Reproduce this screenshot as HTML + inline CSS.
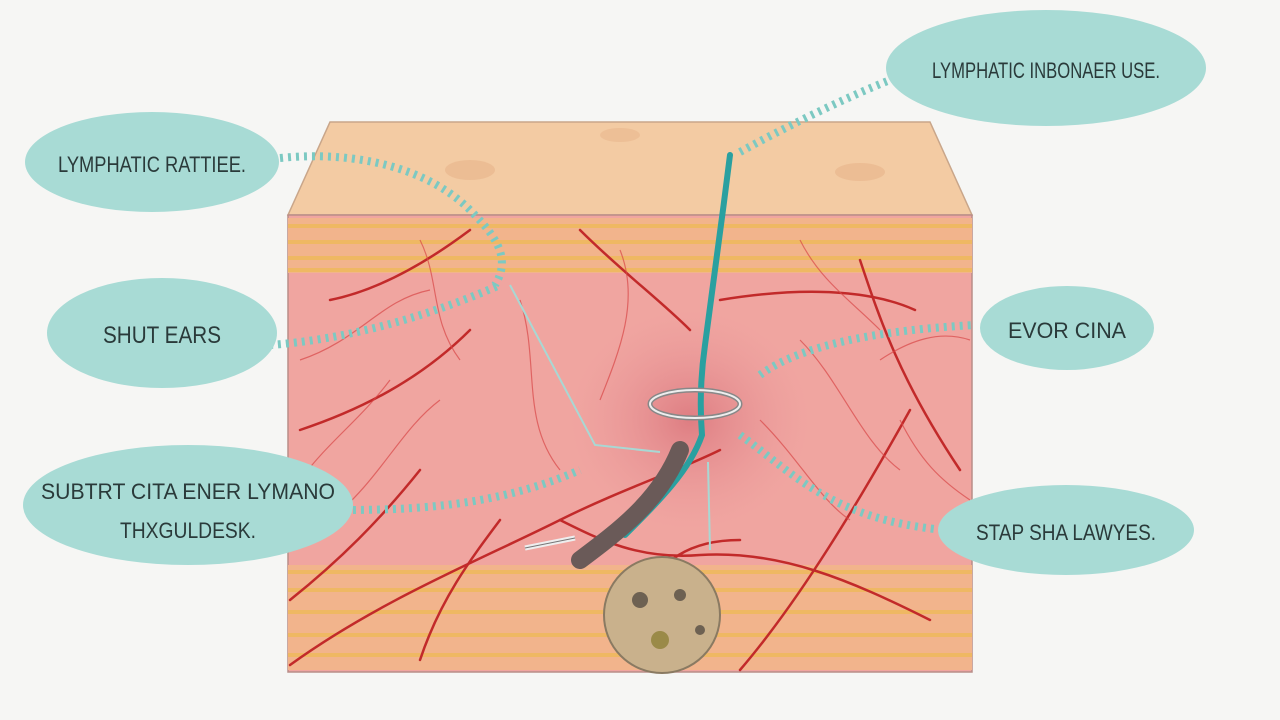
<!DOCTYPE html>
<html><head><meta charset="utf-8"><style>
html,body{margin:0;padding:0;background:#f6f6f4;}
svg{display:block}
text{font-family:"Liberation Sans",sans-serif;fill:#2a3a3a;}
</style></head><body>
<svg width="1280" height="720" viewBox="0 0 1280 720" xmlns="http://www.w3.org/2000/svg">
<defs>
<radialGradient id="glow" cx="0.5" cy="0.5" r="0.5">
<stop offset="0" stop-color="#d9737a" stop-opacity="0.8"/>
<stop offset="1" stop-color="#e8959a" stop-opacity="0"/>
</radialGradient>
</defs>
<rect width="1280" height="720" fill="#f6f6f4"/>
<polygon points="330,122 930,122 972,215 288,215" fill="#f3cba3" stroke="#c9a68a" stroke-width="1.5"/>
<ellipse cx="470" cy="170" rx="25" ry="10" fill="#e8b48a" opacity="0.6"/>
<ellipse cx="860" cy="172" rx="25" ry="9" fill="#e8b48a" opacity="0.6"/>
<ellipse cx="620" cy="135" rx="20" ry="7" fill="#e8b48a" opacity="0.5"/>
<rect x="288" y="215" width="684" height="457" fill="#f0a5a0" stroke="#b98d88" stroke-width="1.5"/>
<rect x="288" y="218" width="684" height="55" fill="#f2b48c"/>
<path d="M288 226 H972 M288 242 H972 M288 258 H972 M288 270 H972" stroke="#efb95a" stroke-width="4" opacity="0.8"/>
<rect x="288" y="565" width="684" height="105" fill="#f2b48c"/>
<path d="M288 572 H972 M288 590 H972 M288 612 H972 M288 635 H972 M288 655 H972" stroke="#efb95a" stroke-width="4" opacity="0.8"/>
<ellipse cx="690" cy="420" rx="120" ry="110" fill="url(#glow)"/>
<g fill="none" stroke="#c22a2a" stroke-width="2.5" stroke-linecap="round">
<path d="M290 665 C380 600 480 560 560 520 C620 490 680 470 720 450"/>
<path d="M560 520 C600 540 640 560 700 555 C780 550 850 580 930 620"/>
<path d="M740 670 C800 600 860 500 910 410"/>
<path d="M580 230 C620 270 660 300 690 330"/>
<path d="M720 300 C780 290 860 285 915 310"/>
<path d="M300 430 C360 410 420 380 470 330"/>
<path d="M420 660 C440 600 470 560 500 520"/>
<path d="M860 260 C880 320 900 380 960 470"/>
<path d="M330 300 C380 290 430 260 470 230"/>
<path d="M640 600 C660 560 690 540 740 540"/>
<path d="M290 600 C340 560 380 520 420 470"/>
</g>
<g fill="none" stroke="#d94848" stroke-width="1.2" opacity="0.7">
<path d="M300 360 C360 340 380 300 430 290"/>
<path d="M330 520 C380 480 400 430 440 400"/>
<path d="M800 340 C840 380 860 440 900 470"/>
<path d="M520 300 C540 360 520 420 560 470"/>
<path d="M760 420 C800 460 820 500 850 520"/>
<path d="M880 360 C910 340 940 330 970 340"/>
<path d="M620 250 C640 300 620 350 600 400"/>
<path d="M300 480 C330 440 360 420 390 380"/>
<path d="M420 240 C440 280 430 320 460 360"/>
<path d="M800 240 C820 280 850 300 880 330"/>
<path d="M900 420 C920 460 940 480 970 500"/>
</g>
<path d="M730 155 C722 220 712 290 705 345 C700 380 700 410 702 435 C690 470 660 500 625 535" fill="none" stroke="#2aa0a0" stroke-width="6" stroke-linecap="round"/>
<ellipse cx="695" cy="404" rx="45" ry="14" fill="none" stroke="#888" stroke-width="5"/>
<ellipse cx="695" cy="404" rx="45" ry="14" fill="none" stroke="#eee" stroke-width="2"/>
<path d="M680 450 C660 500 620 530 580 560" stroke="#6a5a58" stroke-width="18" stroke-linecap="round" fill="none"/>
<ellipse cx="662" cy="615" rx="58" ry="58" fill="#c9b18c" stroke="#8a7a62" stroke-width="2"/>
<circle cx="640" cy="600" r="8" fill="#6d6152"/><circle cx="680" cy="595" r="6" fill="#6d6152"/>
<circle cx="660" cy="640" r="9" fill="#9a8a48"/><circle cx="700" cy="630" r="5" fill="#6d6152"/>
<path d="M525 548 L575 538" stroke="#eee" stroke-width="5"/>
<path d="M525 548 L575 538" stroke="#777" stroke-width="1" fill="none"/>
<g stroke="#a8d8d4" stroke-width="2" fill="none">
<path d="M510 285 L595 445 L660 452"/>
<path d="M708 462 L710 550"/>
</g>
<g fill="none" stroke="#7cc9c2" stroke-width="8" stroke-dasharray="3 5">
<path d="M740 152 C780 130 840 100 890 80"/>
<path d="M280 158 C360 150 430 170 470 210 C500 240 510 260 495 285"/>
<path d="M270 345 C340 340 420 320 500 285"/>
<path d="M345 510 C420 510 500 505 580 470"/>
<path d="M760 375 C800 345 880 330 975 325"/>
<path d="M740 435 C790 470 830 520 945 530"/>
</g>
<g fill="#a8dbd5">
<ellipse cx="1046" cy="68" rx="160" ry="58"/>
<ellipse cx="152" cy="162" rx="127" ry="50"/>
<ellipse cx="162" cy="333" rx="115" ry="55"/>
<ellipse cx="1067" cy="328" rx="87" ry="42"/>
<ellipse cx="188" cy="505" rx="165" ry="60"/>
<ellipse cx="1066" cy="530" rx="128" ry="45"/>
</g>
<text x="1046" y="78" font-size="22" text-anchor="middle" textLength="228" lengthAdjust="spacingAndGlyphs">LYMPHATIC INBONAER USE.</text>
<text x="152" y="172" font-size="22" text-anchor="middle" textLength="188" lengthAdjust="spacingAndGlyphs">LYMPHATIC RATTIEE.</text>
<text x="162" y="343" font-size="24" text-anchor="middle" textLength="118" lengthAdjust="spacingAndGlyphs">SHUT EARS</text>
<text x="1067" y="338" font-size="22" text-anchor="middle" textLength="118" lengthAdjust="spacingAndGlyphs">EVOR CINA</text>
<text x="188" y="499" font-size="22" text-anchor="middle" textLength="294" lengthAdjust="spacingAndGlyphs">SUBTRT CITA ENER LYMANO</text>
<text x="188" y="538" font-size="22" text-anchor="middle" textLength="136" lengthAdjust="spacingAndGlyphs">THXGULDESK.</text>
<text x="1066" y="540" font-size="22" text-anchor="middle" textLength="180" lengthAdjust="spacingAndGlyphs">STAP SHA LAWYES.</text>
</svg>
</body></html>
